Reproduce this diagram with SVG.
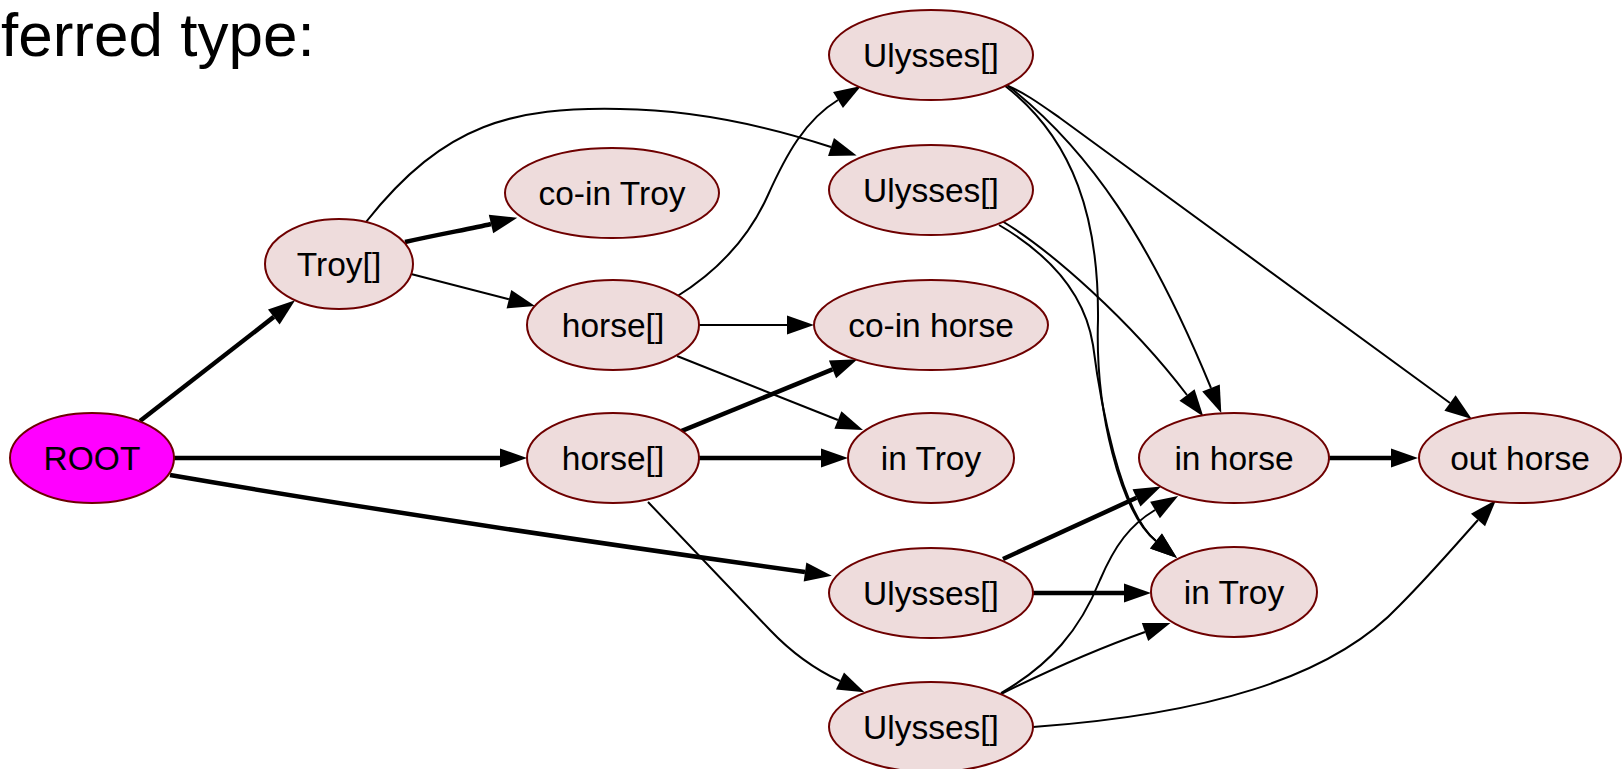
<svg xmlns="http://www.w3.org/2000/svg" width="1622" height="769" viewBox="0 0 1622 769">
<style>
.n ellipse{fill:#eedcdc;stroke:#6e0000;stroke-width:2}
.n text{font-family:"Liberation Sans",Arial,sans-serif;font-size:33.5px;text-anchor:middle;fill:#000}
#root ellipse{fill:#ff00ff}
.e path{fill:none;stroke:#000;marker-end:url(#ah)}
.e .t{stroke-width:2}
.e .k{stroke-width:4.5}
.title{font-family:"Liberation Sans",Arial,sans-serif;font-size:62px;fill:#000}
</style>
<defs>
<marker id="ah" markerUnits="userSpaceOnUse" markerWidth="28" markerHeight="20" refX="0" refY="9.5" orient="auto" overflow="visible">
<path d="M0,0 L27,9.5 L0,19 Z" fill="#000" stroke="none"/>
</marker>
</defs>
<rect width="1622" height="769" fill="#fff"/>
<text class="title" x="1" y="56">ferred type:</text>
<g class="e" id="edges">
<path class="k" d="M140 421 L273.8 316.9"/>
<path class="k" d="M174 458 L500 458"/>
<path class="k" d="M170 475 C 420 518, 690 556, 805 572"/>
<path class="k" d="M405 242 C 440 234, 470 229, 491 224"/>
<path class="t" d="M411 274 L508.9 299.2"/>
<path class="t" d="M366 222 C 445 122, 515 107, 620 109 C 700 110, 770 127, 831 147"/>
<path class="t" d="M676 297 C 720 270, 750 235, 768 195 C 786 155, 805 120, 838 100"/>
<path class="t" d="M699 325 L787 325"/>
<path class="t" d="M677 356 L837.9 420"/>
<path class="k" d="M680 431.7 L832.5 369.4"/>
<path class="k" d="M699 458 L821 458"/>
<path class="t" d="M648 502 L770 630 C 790 651, 812 668, 840 681"/>
<path class="t" d="M1007 85 C 1090 150, 1150 240, 1211 388"/>
<path class="t" d="M1008 86 C 1025 93, 1040 104, 1060 118 L 1450 403"/>
<path class="t" d="M1004 85 C 1075 140, 1099 220, 1098 320 C 1095 410, 1120 512, 1156 541"/>
<path class="t" d="M1002 221 C 1050 250, 1130 320, 1187 395"/>
<path class="t" d="M999 225 C 1050 255, 1085 295, 1093 345 C 1100 400, 1120 512, 1156 541"/>
<path class="k" d="M1003 559 L1136.5 497.8"/>
<path class="k" d="M1033 593 L1124 593"/>
<path class="t" d="M1001 693 C 1050 665, 1080 630, 1100 580 C 1115 545, 1130 525, 1155 510"/>
<path class="t" d="M1001 694 Q 1080 655, 1145 632"/>
<path class="t" d="M1033 727 C 1200 715, 1330 680, 1400 605 C 1430 575, 1460 540, 1478 520"/>
<path class="k" d="M1329 458 L1391 458"/>
</g>
<g class="n" id="root"><ellipse cx="92" cy="458" rx="82" ry="45"/><text x="92" y="470">ROOT</text></g>
<g class="n" id="troy"><ellipse cx="339" cy="264" rx="74" ry="45"/><text x="339" y="276">Troy[]</text></g>
<g class="n" id="cointroy1"><ellipse cx="612" cy="193" rx="107" ry="45"/><text x="612" y="205">co-in Troy</text></g>
<g class="n" id="horse1"><ellipse cx="613" cy="325" rx="86" ry="45"/><text x="613" y="337">horse[]</text></g>
<g class="n" id="horse2"><ellipse cx="613" cy="458" rx="86" ry="45"/><text x="613" y="470">horse[]</text></g>
<g class="n" id="ulysses1"><ellipse cx="931" cy="55" rx="102" ry="45"/><text x="931" y="67">Ulysses[]</text></g>
<g class="n" id="ulysses2"><ellipse cx="931" cy="190" rx="102" ry="45"/><text x="931" y="202">Ulysses[]</text></g>
<g class="n" id="coinhorse"><ellipse cx="931" cy="325" rx="117" ry="45"/><text x="931" y="337">co-in horse</text></g>
<g class="n" id="introy1"><ellipse cx="931" cy="458" rx="83" ry="45"/><text x="931" y="470">in Troy</text></g>
<g class="n" id="ulysses3"><ellipse cx="931" cy="593" rx="102" ry="45"/><text x="931" y="605">Ulysses[]</text></g>
<g class="n" id="ulysses4"><ellipse cx="931" cy="727" rx="102" ry="45"/><text x="931" y="739">Ulysses[]</text></g>
<g class="n" id="inhorse"><ellipse cx="1234" cy="458" rx="95" ry="45"/><text x="1234" y="470">in horse</text></g>
<g class="n" id="introy2"><ellipse cx="1234" cy="592" rx="83" ry="45"/><text x="1234" y="604">in Troy</text></g>
<g class="n" id="outhorse"><ellipse cx="1520" cy="458" rx="101" ry="45"/><text x="1520" y="470">out horse</text></g>
</svg>
